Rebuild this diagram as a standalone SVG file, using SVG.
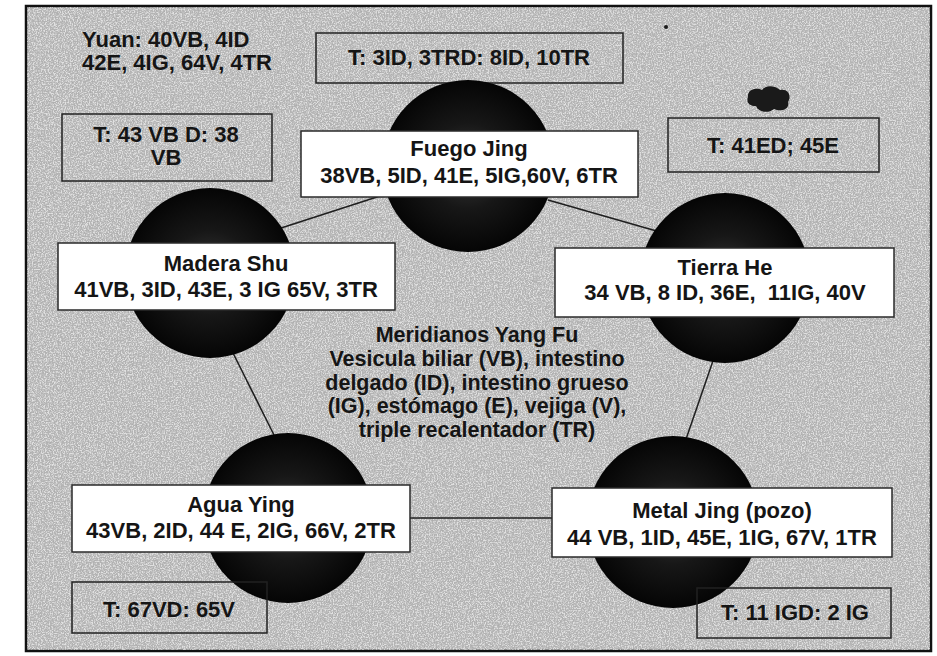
<svg xmlns="http://www.w3.org/2000/svg" width="937" height="656" viewBox="0 0 937 656">
  <defs>
    <radialGradient id="sphere" cx="50%" cy="50%" r="50%">
      <stop offset="0" stop-color="#3a3a3a"/>
      <stop offset="0.5" stop-color="#171717"/>
      <stop offset="1" stop-color="#050505"/>
    </radialGradient>
    <filter id="noiseLight" x="0" y="0" width="100%" height="100%">
      <feTurbulence type="fractalNoise" baseFrequency="0.75" numOctaves="2" seed="4"/>
      <feColorMatrix type="matrix" values="0 0 0 0 1  0 0 0 0 1  0 0 0 0 1  4 0 0 0 -1.7"/>
    </filter>
    <filter id="noiseDark" x="0" y="0" width="100%" height="100%">
      <feTurbulence type="fractalNoise" baseFrequency="0.8" numOctaves="2" seed="11"/>
      <feColorMatrix type="matrix" values="0 0 0 0 0.35  0 0 0 0 0.35  0 0 0 0 0.35  -4 0 0 0 1.8"/>
    </filter>
    <style>
      .frame { fill: #b4b4b4; stroke: #111; stroke-width: 2.5; }
      .ball { fill: url(#sphere); }
      .wbox { fill: #ffffff; stroke: #2a2a2a; stroke-width: 1.5; }
      .tbox { fill: none; stroke: #222; stroke-width: 1.5; }
      .lbl { font-family: "Liberation Sans", Arial, sans-serif; font-weight: bold; font-size: 22px; fill: #151515; text-anchor: middle; }
      .yuan { font-family: "Liberation Sans", Arial, sans-serif; font-weight: bold; font-size: 22px; fill: #151515; }
      .center { font-family: "Liberation Sans", Arial, sans-serif; font-weight: bold; font-size: 21.5px; fill: #151515; text-anchor: middle; }
      .conn line { stroke: #1e1e1e; stroke-width: 1.5; }
    </style>
  </defs>

  <rect x="0" y="0" width="937" height="656" fill="#ffffff"/>
  <g id="background">
    <rect class="frame" x="26" y="6" width="905" height="645"/>
    <rect x="27" y="7" width="903" height="643" filter="url(#noiseLight)" opacity="0.6"/>
    <rect x="27" y="7" width="903" height="643" filter="url(#noiseDark)" opacity="0.45"/>
    <path d="M748 97 C747 90 756 87 762 90 C766 84 776 86 780 90 C788 88 792 96 788 102 C790 110 780 112 774 109 C768 114 758 112 756 106 C749 106 746 102 748 97 Z" fill="#1a1a1a"/>
    <circle cx="666" cy="27" r="2" fill="#1a1a1a"/>
  </g>

  <g id="connectors" class="conn">
    <line x1="278" y1="229" x2="380" y2="196"/>
    <line x1="548" y1="200" x2="660" y2="232"/>
    <line x1="232" y1="351" x2="277" y2="441"/>
    <line x1="715" y1="355" x2="684" y2="445"/>
    <line x1="405" y1="518" x2="560" y2="518"/>
  </g>

  <g id="yuan">
    <text class="yuan" x="82" y="47">Yuan: 40VB, 4ID</text>
    <text class="yuan" x="82" y="70">42E, 4IG, 64V, 4TR</text>
  </g>

  <g id="t-fuego">
    <rect class="tbox" x="316" y="33" width="307" height="50"/>
    <text class="lbl" x="469" y="65">T: 3ID, 3TRD: 8ID, 10TR</text>
  </g>

  <g id="t-madera">
    <rect class="tbox" x="62" y="114" width="210" height="67"/>
    <text class="lbl" x="166" y="142">T: 43 VB D: 38</text>
    <text class="lbl" x="166" y="165">VB</text>
  </g>

  <g id="t-tierra">
    <rect class="tbox" x="668" y="118" width="211" height="54"/>
    <text class="lbl" x="773" y="153">T: 41ED; 45E</text>
  </g>

  <g id="fuego">
    <circle class="ball" cx="468" cy="166" r="86"/>
    <rect class="wbox" x="301" y="131" width="337" height="66"/>
    <text class="lbl" x="469" y="156">Fuego Jing</text>
    <text class="lbl" x="469" y="183">38VB, 5ID, 41E, 5IG,60V, 6TR</text>
  </g>

  <g id="madera">
    <circle class="ball" cx="210" cy="273" r="85"/>
    <rect class="wbox" x="58" y="243" width="337" height="67"/>
    <text class="lbl" x="226" y="271">Madera Shu</text>
    <text class="lbl" x="226" y="297">41VB, 3ID, 43E, 3 IG 65V, 3TR</text>
  </g>

  <g id="tierra">
    <circle class="ball" cx="725" cy="278" r="85"/>
    <rect class="wbox" x="555" y="248" width="339" height="69"/>
    <text class="lbl" x="725" y="275">Tierra He</text>
    <text class="lbl" x="725" y="300" xml:space="preserve">34 VB, 8 ID, 36E,  11IG, 40V</text>
  </g>

  <g id="agua">
    <circle class="ball" cx="288" cy="518" r="85"/>
    <rect class="wbox" x="72" y="485" width="338" height="67"/>
    <text class="lbl" x="241" y="512">Agua Ying</text>
    <text class="lbl" x="241" y="538">43VB, 2ID, 44 E, 2IG, 66V, 2TR</text>
  </g>

  <g id="t-agua">
    <rect class="tbox" x="72" y="582" width="195" height="51"/>
    <text class="lbl" x="169" y="617">T: 67VD: 65V</text>
  </g>

  <g id="metal">
    <circle class="ball" cx="673" cy="522" r="86"/>
    <rect class="wbox" x="552" y="488" width="340" height="69"/>
    <text class="lbl" x="722" y="518">Metal Jing (pozo)</text>
    <text class="lbl" x="722" y="545">44 VB, 1ID, 45E, 1IG, 67V, 1TR</text>
  </g>

  <g id="t-metal">
    <rect class="tbox" x="697" y="588" width="194" height="50"/>
    <text class="lbl" x="795" y="620">T: 11 IGD: 2 IG</text>
  </g>

  <g id="center-text">
    <text class="center" x="477" y="342">Meridianos Yang Fu</text>
    <text class="center" x="477" y="366">Vesicula biliar (VB), intestino</text>
    <text class="center" x="477" y="390">delgado (ID), intestino grueso</text>
    <text class="center" x="477" y="413">(IG), estómago (E), vejiga (V),</text>
    <text class="center" x="477" y="437">triple recalentador (TR)</text>
  </g>
</svg>
